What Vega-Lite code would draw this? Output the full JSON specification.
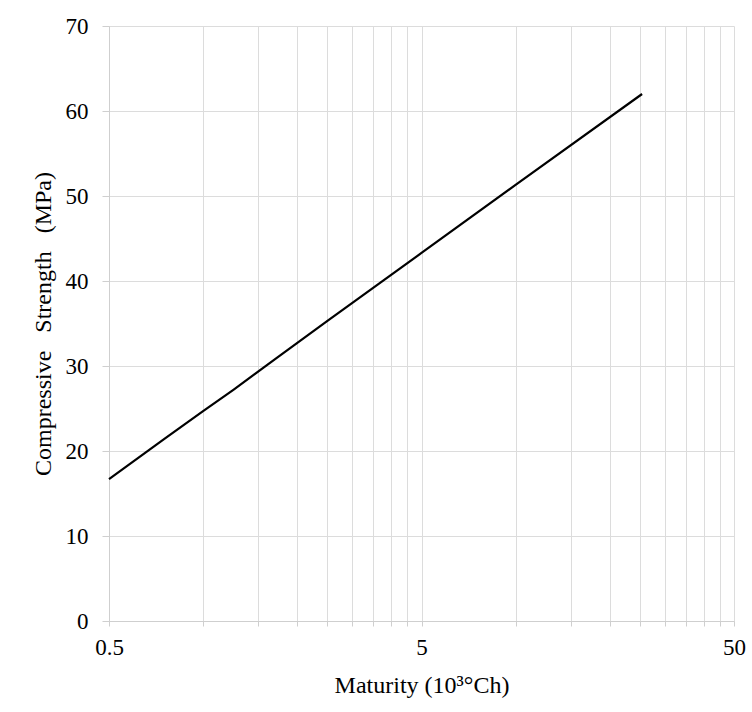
{
  "$schema": "https://vega.github.io/schema/vega-lite/v6.json",
  "width": 625,
  "height": 595,
  "autosize": {"type": "none"},
  "padding": {"left": 109, "top": 26, "right": 18, "bottom": 91},
  "background": "white",
  "config": {
    "font": "Liberation Serif",
    "view": {"stroke": null}
  },
  "data": {
    "values": [
      {"maturity": 0.5, "strength": 16.7},
      {"maturity": 0.75, "strength": 21.4},
      {"maturity": 1.0, "strength": 24.7},
      {"maturity": 1.25, "strength": 27.2},
      {"maturity": 1.7, "strength": 30.8},
      {"maturity": 2.5, "strength": 35.3},
      {"maturity": 5.0, "strength": 43.3},
      {"maturity": 10.0, "strength": 51.3},
      {"maturity": 25.4, "strength": 62.0}
    ]
  },
  "mark": {"type": "line", "color": "black", "strokeWidth": 2.2},
  "encoding": {
    "x": {
      "field": "maturity",
      "type": "quantitative",
      "scale": {"type": "log", "domain": [0.5, 50], "nice": false},
      "axis": {
        "values": [0.5, 1, 1.5, 2, 2.5, 3, 3.5, 4, 4.5, 5, 10, 15, 20, 25, 30, 35, 40, 45, 50],
        "labelExpr": "datum.value == 0.5 || datum.value == 5 || datum.value == 50 ? datum.label : ''",
        "grid": true,
        "gridColor": "#dcdcdc",
        "domainColor": "#cfcfcf",
        "tickColor": "#cfcfcf",
        "tickSize": 5,
        "labelPadding": 10,
        "labelFontSize": 23,
        "labelColor": "black",
        "labelFlush": false,
        "labelOverlap": false,
        "title": "Maturity (10³°Ch)",
        "titleFontSize": 24,
        "titleFontWeight": "normal",
        "titleColor": "black",
        "titlePadding": 14
      }
    },
    "y": {
      "field": "strength",
      "type": "quantitative",
      "scale": {"domain": [0, 70], "nice": false},
      "axis": {
        "values": [0, 10, 20, 30, 40, 50, 60, 70],
        "grid": true,
        "gridColor": "#dcdcdc",
        "domainColor": "#cfcfcf",
        "tickColor": "#cfcfcf",
        "tickSize": 7,
        "labelPadding": 14,
        "labelFontSize": 23,
        "labelColor": "black",
        "title": "Compressive\u00a0\u00a0 Strength\u00a0\u00a0 (MPa)",
        "titleFontSize": 24,
        "titleFontWeight": "normal",
        "titleColor": "black",
        "titlePadding": 10
      }
    }
  }
}
